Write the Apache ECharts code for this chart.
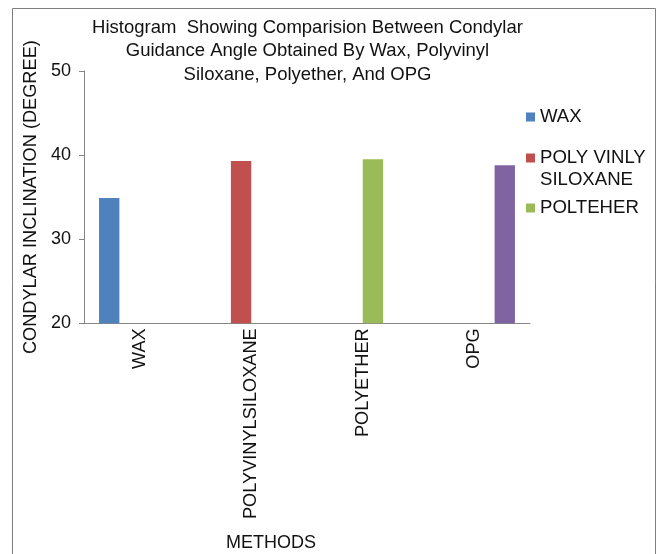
<!DOCTYPE html>
<html>
<head>
<meta charset="utf-8">
<script src="https://cdn.jsdelivr.net/npm/echarts@6/dist/echarts.min.js"></script>
<style>
html,body{margin:0;padding:0;background:#fff;}
#chart{width:661px;height:554px;}
</style>
</head>
<body>
<div id="chart"></div>
<script>
var categories = ['WAX', 'POLYVINYLSILOXANE', 'POLYETHER', 'OPG'];
var seriesNames = ['WAX', 'POLY VINLY SILOXANE', 'POLTEHER', 'OPG'];
var values = [34.9, 39.3, 39.5, 38.8];
var colors = ['#4F81BD', '#C0504D', '#9BBB59', '#8064A2'];
var yTicks = [20, 30, 40, 50];

var FONT = 'Liberation Sans, Arial, sans-serif';
var chart = echarts.init(document.getElementById('chart'), null, {renderer: 'canvas'});

var series = seriesNames.map(function (name, i) {
  return {
    name: name,
    type: 'bar',
    barGap: '0%',
    barCategoryGap: '27%',
    itemStyle: {color: colors[i]},
    data: categories.map(function (c, j) { return j === i ? values[i] : '-'; })
  };
});

var legendBase = {
  orient: 'vertical',
  left: 526,
  padding: 0,
  itemWidth: 9,
  itemHeight: 9,
  icon: 'rect',
  selectedMode: false,
  textStyle: {fontFamily: FONT, fontSize: 18.6, color: '#111', lineHeight: 22}
};

var option = {
  backgroundColor: '#fff',
  animation: false,
  title: {
    text: 'Histogram  Showing Comparision Between Condylar\nGuidance Angle Obtained By Wax, Polyvinyl\nSiloxane, Polyether, And OPG',
    left: 307.5,
    top: 16,
    padding: 0,
    textAlign: 'center',
    textStyle: {fontFamily: FONT, fontSize: 18.5, fontWeight: 'normal', color: '#111', lineHeight: 23.5}
  },
  legend: [
    Object.assign({}, legendBase, {top: 106, data: [seriesNames[0]]}),
    Object.assign({}, legendBase, {
      top: 147, data: [seriesNames[1]],
      icon: 'path://M0,0H9V9H0Z M0,31',
      itemHeight: 31,
      formatter: function () { return 'POLY VINLY\nSILOXANE'; }
    }),
    Object.assign({}, legendBase, {top: 197, data: [seriesNames[2]]})
  ],
  grid: {left: 84, right: 131, top: 71, bottom: 230.7, containLabel: false},
  xAxis: {
    type: 'category',
    data: categories,
    axisLine: {show: true, lineStyle: {color: '#868686', width: 1}},
    axisTick: {show: false},
    axisLabel: {rotate: 90, margin: 5, interval: 0, fontFamily: FONT, fontSize: 18.2, color: '#111'}
  },
  yAxis: {
    type: 'value',
    min: yTicks[0],
    max: yTicks[yTicks.length - 1],
    interval: 10,
    name: 'CONDYLAR INCLINATION (DEGREE)',
    nameLocation: 'middle',
    nameGap: 34.5,
    nameTextStyle: {fontFamily: FONT, fontSize: 18.2, color: '#111'},
    axisLine: {show: true, lineStyle: {color: '#868686', width: 1}},
    axisTick: {show: true, length: 5, lineStyle: {color: '#868686'}},
    splitLine: {show: false},
    axisLabel: {margin: 13, fontFamily: FONT, fontSize: 18, color: '#111'}
  },
  graphic: [
    {
      type: 'rect',
      shape: {x: 12.5, y: 8.5, width: 643, height: 600},
      style: {fill: 'none', stroke: '#7f7f7f', lineWidth: 1},
      silent: true
    },
    {
      type: 'text',
      x: 271,
      y: 543,
      style: {text: 'METHODS', fill: '#111', font: '18px ' + FONT, textAlign: 'center', textVerticalAlign: 'middle'},
      silent: true
    }
  ],
  series: series
};
chart.setOption(option);
</script>
</body>
</html>
